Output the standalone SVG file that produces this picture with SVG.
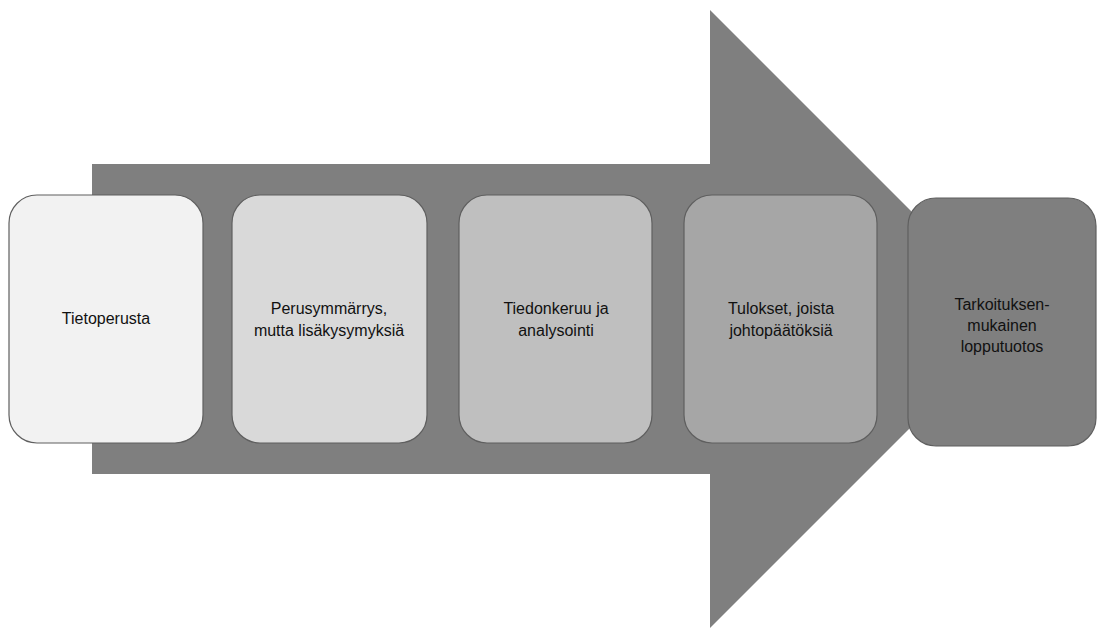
<svg xmlns="http://www.w3.org/2000/svg" width="1098" height="628" viewBox="0 0 1098 628">
<style>
.box{stroke:#5f5f5f;stroke-width:1.2}
text{font-family:"Liberation Sans",Arial,sans-serif;font-size:16px;fill:#111;text-anchor:middle}
</style>
<rect width="1098" height="628" fill="#fff"/>
<g id="arrow">
<polygon points="92,164 710,164 710,10 1019,319 710,628 710,474 92,474" fill="#7f7f7f"/>
</g>
<g id="connectors"></g>
<g id="n1">
<rect class="box" x="9" y="195" width="194" height="248" rx="28" fill="#f2f2f2"/>
<text x="106" y="324">Tietoperusta</text>
</g>
<g id="n2">
<rect class="box" x="232" y="195" width="195" height="248" rx="28" fill="#d9d9d9"/>
<text x="329" y="314">Perusymmärrys,</text>
<text x="329" y="336">mutta lisäkysymyksiä</text>
</g>
<g id="n3">
<rect class="box" x="459" y="195" width="193" height="248" rx="28" fill="#bfbfbf"/>
<text x="556" y="314">Tiedonkeruu ja</text>
<text x="556" y="336">analysointi</text>
</g>
<g id="n4">
<rect class="box" x="684" y="195" width="193" height="248" rx="28" fill="#a6a6a6"/>
<text x="781" y="314">Tulokset, joista</text>
<text x="781" y="336">johtopäätöksiä</text>
</g>
<g id="n5">
<rect class="box" x="908" y="198" width="188" height="248" rx="28" fill="#7f7f7f"/>
<text x="1002" y="310">Tarkoituksen-</text>
<text x="1002" y="331">mukainen</text>
<text x="1002" y="352">lopputuotos</text>
</g>
</svg>
